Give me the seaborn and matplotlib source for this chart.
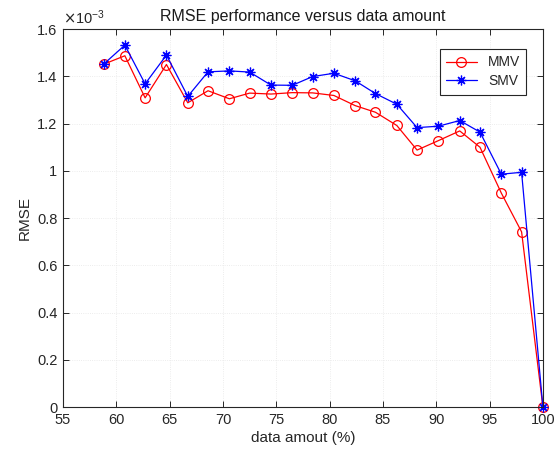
import numpy as np
import pandas as pd
import matplotlib
matplotlib.use("Agg")
import matplotlib.pyplot as plt
import seaborn as sns
from matplotlib.ticker import FuncFormatter

# data amount in percent (k/51*100, k = 30..51)
data_amount = [58.8, 60.8, 62.7, 64.7, 66.7, 68.6, 70.6, 72.5, 74.5, 76.5, 78.4,
               80.4, 82.4, 84.3, 86.3, 88.2, 90.2, 92.2, 94.1, 96.1, 98.0, 100.0]

# RMSE values (x 1e-3)
rmse_mmv = [1.451, 1.487, 1.309, 1.450, 1.288, 1.339, 1.305, 1.329, 1.325, 1.331, 1.330,
            1.319, 1.276, 1.248, 1.192, 1.088, 1.128, 1.169, 1.100, 0.906, 0.742, 0.0]
rmse_smv = [1.451, 1.532, 1.368, 1.490, 1.315, 1.419, 1.423, 1.418, 1.363, 1.362, 1.399,
            1.413, 1.381, 1.327, 1.282, 1.183, 1.189, 1.213, 1.164, 0.986, 0.994, 0.0]

df = pd.DataFrame({
    "amount": data_amount,
    "MMV": np.array(rmse_mmv) * 1e-3,
    "SMV": np.array(rmse_smv) * 1e-3,
})

sns.set_style("ticks")
plt.rcParams["font.family"] = ["Liberation Sans", "DejaVu Sans"]

fig = plt.figure(figsize=(5.54, 4.54), dpi=100)
ax = fig.add_axes([0.1137, 0.103, 0.8663, 0.833])

sns.lineplot(data=df, x="amount", y="MMV", ax=ax, color="red", lw=0.9,
             marker="o", markersize=7, markerfacecolor="none",
             markeredgecolor="red", markeredgewidth=0.9, label="MMV", clip_on=False)
sns.lineplot(data=df, x="amount", y="SMV", ax=ax, color="blue", lw=0.9,
             marker=(8, 2, 0), markersize=7, markeredgecolor="blue",
             markeredgewidth=0.9, label="SMV", clip_on=False)

ax.set_xlim(55, 100)
ax.set_ylim(0, 1.6e-3)
ax.set_xticks(np.arange(55, 101, 5))
ax.set_yticks(np.arange(0, 1.61e-3, 0.2e-3))
ax.yaxis.set_major_formatter(FuncFormatter(lambda v, p: f"{v * 1e3:g}"))

ax.grid(True, linestyle=":", color="#e6e6e6", lw=0.6)
ax.tick_params(direction="in", top=True, right=True, labelsize=10.5, pad=4,
               length=4, width=0.7, colors="#262626", labelcolor="#262626")
for s in ax.spines.values():
    s.set_linewidth(0.8)
    s.set_color("#262626")

ax.set_title("RMSE performance versus data amount", fontsize=11.5, pad=6, color="#1a1a1a")
ax.set_xlabel("data amout (%)", fontsize=11, color="#262626", labelpad=3)
ax.set_ylabel("RMSE", fontsize=11, color="#262626", labelpad=4)
ax.text(0.0, 1.006, r"$\times\mathregular{10^{-3}}$", transform=ax.transAxes,
        fontsize=10.5, color="#262626", ha="left", va="bottom")

leg = ax.legend(loc="upper right", bbox_to_anchor=(0.98, 0.965), fontsize=10,
                frameon=True, fancybox=False, framealpha=1, edgecolor="#262626",
                handlelength=2.2, borderpad=0.45, labelspacing=0.35)
leg.get_frame().set_linewidth(0.8)

fig.savefig("out.png", dpi=100)
